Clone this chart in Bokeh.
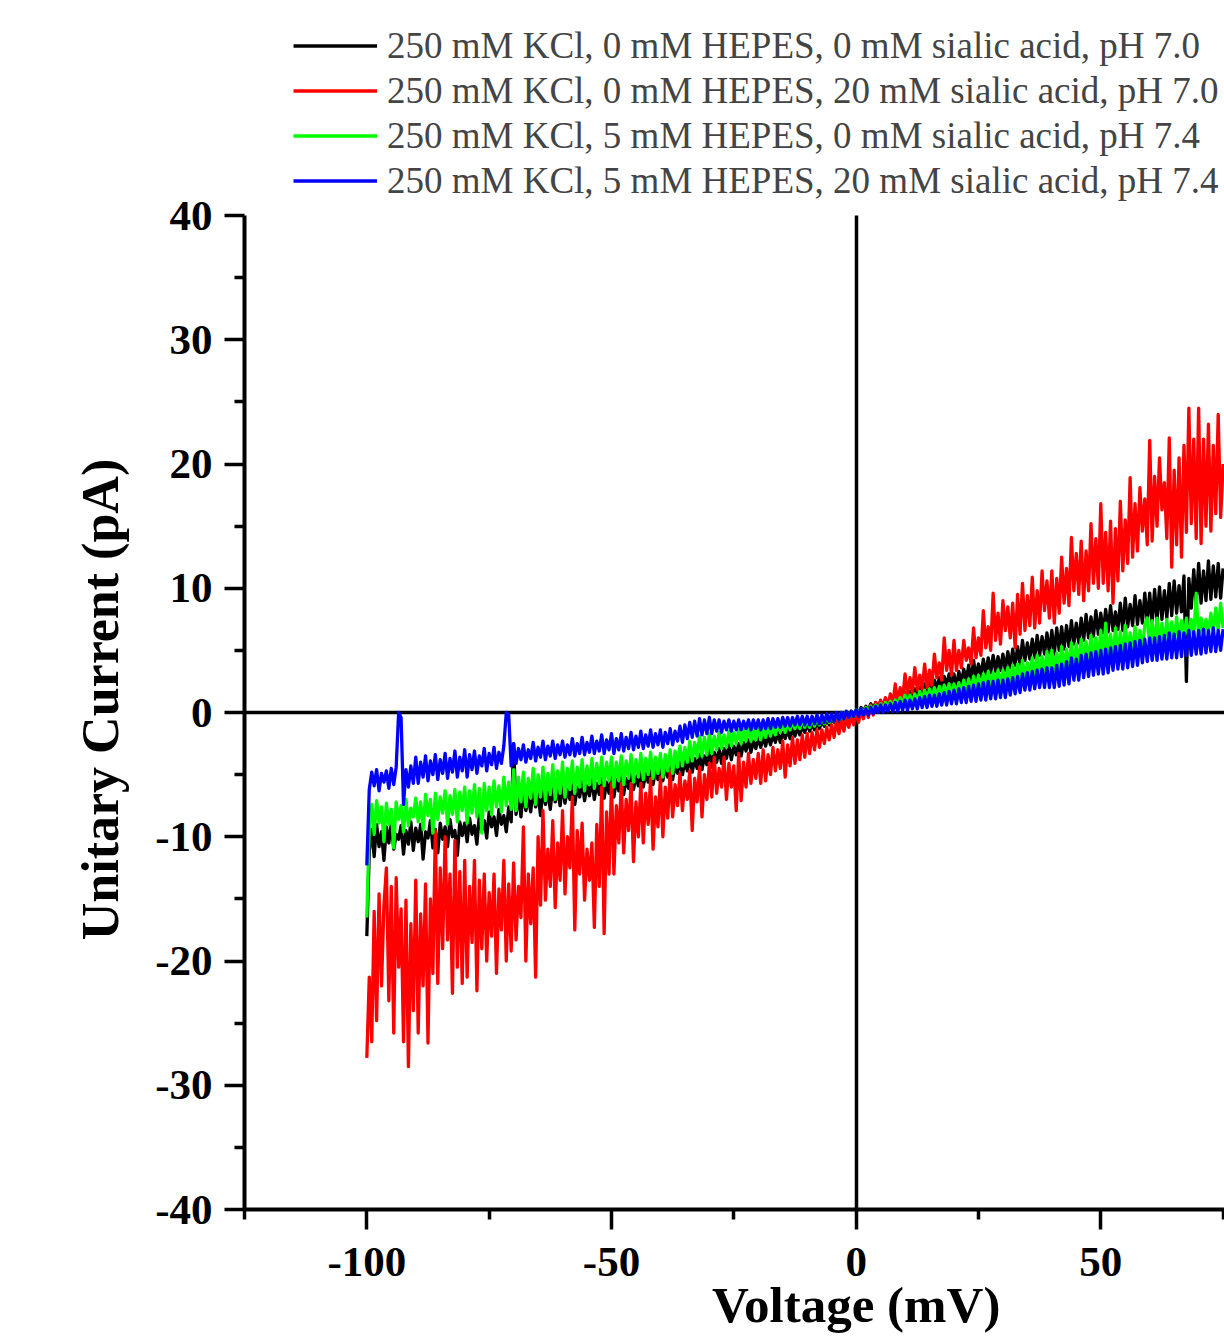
import math
from bokeh.plotting import figure
from bokeh.models import Range1d, FixedTicker, Label, Legend, LegendItem, LinearAxis
from bokeh.embed import file_html
from bokeh.resources import INLINE

# ---------------- data ----------------
v_start, v_step, n_points = -100.0, 0.5, 351
voltage = [round(v_start + v_step * i, 1) for i in range(n_points)]

series_labels = [
    "250 mM KCl, 0 mM HEPES, 0 mM sialic acid, pH 7.0",
    "250 mM KCl, 0 mM HEPES, 20 mM sialic acid, pH 7.0",
    "250 mM KCl, 5 mM HEPES, 0 mM sialic acid, pH 7.4",
    "250 mM KCl, 5 mM HEPES, 20 mM sialic acid, pH 7.4",
]
series_colors = ["#000000", "#ff0000", "#00ff00", "#0000ff"]

current_black = [
    -18.0, -11.2, -9.4, -11.6, -9.0, -10.8, -9.6, -11.9, -9.2, -10.5, -8.9, -11.0, -9.8, -10.2, -9.1, -11.4, -9.5, -10.6, -8.8, -11.1,
    -9.3, -10.4, -9.0, -11.8, -9.6, -10.1, -8.7, -10.9, -9.4, -11.3, -8.9, -10.2, -9.2, -10.8, -8.6, -10.0, -9.5, -11.5, -8.8, -9.9,
    -8.9, -10.4, -8.5, -9.8, -9.1, -10.6, -8.2, -9.5, -8.7, -10.1, -8.0, -9.2, -8.4, -9.9, -7.8, -9.0, -8.3, -9.6, -7.6, -8.8,
    -2.5, -8.2, -6.6, -8.4, -6.3, -7.9, -6.8, -8.0, -6.1, -7.6, -6.5, -8.3, -6.0, -7.4, -6.4, -7.8, -5.9, -7.2, -6.2, -7.5,
    -5.8, -7.3, -6.2, -7.0, -5.6, -7.4, -6.0, -6.8, -5.5, -7.1, -5.9, -6.7, -5.4, -7.0, -5.7, -6.6, -5.3, -6.9, -5.6, -6.5,
    -5.2, -6.8, -5.4, -6.3, -5.0, -6.6, -5.3, -6.1, -4.8, -6.2, -5.1, -5.9, -4.7, -6.0, -4.9, -5.6, -4.5, -5.8, -4.6, -5.4,
    -4.1, -5.5, -4.3, -5.2, -4.0, -5.4, -4.2, -4.9, -3.8, -5.0, -3.9, -4.7, -3.6, -4.8, -3.7, -4.5, -3.4, -4.6, -3.5, -4.2,
    -3.0, -4.4, -3.2, -4.0, -2.9, -4.1, -2.9, -3.7, -2.6, -3.8, -2.7, -3.4, -2.5, -3.5, -2.4, -3.1, -2.2, -3.2, -2.3, -2.9,
    -2.0, -2.8, -2.0, -2.7, -1.8, -2.6, -1.8, -2.4, -1.6, -2.4, -1.6, -2.1, -1.4, -2.1, -1.3, -1.9, -1.2, -1.8, -1.1, -1.6,
    -0.9, -1.5, -0.9, -1.4, -0.7, -1.3, -0.7, -1.1, -0.5, -1.0, -0.5, -0.8, -0.3, -0.8, -0.2, -0.6, 0.0, -0.4, 0.1, -0.3,
    0.2, -0.1, 0.4, 0.1, 0.5, 0.2, 0.7, 0.3, 0.8, 0.4, 0.9, 0.5, 1.1, 0.6, 1.2, 0.8, 1.3, 0.9, 1.5, 1.0,
    1.6, 1.0, 1.7, 1.2, 1.9, 1.3, 2.0, 1.5, 2.3, 1.6, 2.4, 1.8, 2.6, 1.9, 2.8, 2.0, 2.9, 2.2, 3.1, 2.1,
    3.1, 2.0, 3.3, 2.4, 3.5, 2.5, 3.8, 2.6, 4.2, 2.8, 3.9, 2.9, 4.3, 3.1, 4.4, 3.2, 4.6, 3.3, 4.5, 3.4,
    4.7, 3.4, 4.9, 3.6, 5.1, 3.8, 5.3, 3.9, 5.8, 4.2, 5.6, 4.3, 5.9, 4.4, 6.2, 4.6, 6.1, 4.7, 6.4, 4.8,
    6.6, 4.7, 6.8, 5.0, 6.9, 5.1, 7.0, 5.3, 7.4, 5.5, 7.2, 5.6, 7.6, 5.8, 7.9, 6.0, 7.7, 6.1, 8.2, 6.3,
    8.0, 6.4, 8.3, 6.5, 8.6, 6.6, 8.1, 6.7, 8.8, 6.6, 9.2, 6.9, 8.7, 7.0, 9.4, 7.1, 9.0, 7.2, 9.6, 7.3,
    9.6, 7.2, 9.9, 7.4, 10.1, 7.5, 9.8, 7.6, 10.4, 7.8, 10.6, 8.0, 10.2, 8.1, 11.0, 2.5, 10.8, 8.4, 11.5, 8.6,
    12.0, 8.8, 11.4, 9.0, 12.2, 9.1, 11.8, 9.3, 12.0, 9.2, 11.6,
]

current_red = [
    -27.8, -21.3, -26.5, -16.0, -24.8, -14.6, -22.0, -15.5, -12.5, -23.2, -14.0, -25.8, -13.3, -20.5, -15.8, -26.5, -15.1, -28.5, -17.0, -24.0,
    -13.5, -25.8, -16.2, -22.0, -13.8, -26.6, -15.0, -21.0, -9.5, -21.8, -12.5, -19.0, -10.0, -18.3, -13.0, -22.6, -10.3, -20.5, -12.8, -21.8,
    -11.9, -21.3, -14.0, -18.5, -11.9, -22.4, -13.5, -19.0, -13.0, -20.0, -14.5, -18.0, -13.0, -21.0, -14.2, -17.5, -11.9, -20.0, -13.8, -19.2,
    -12.1, -18.3, -14.0, -16.5, -9.2, -20.0, -13.0, -17.0, -12.5, -21.3, -10.0, -15.5, -7.9, -15.1, -11.0, -14.0, -8.7, -15.7, -10.5, -13.5,
    -7.9, -14.6, -10.0, -12.5, -6.8, -17.5, -9.5, -13.0, -8.9, -15.1, -11.0, -13.5, -10.5, -17.3, -9.0, -14.0, -6.0, -17.8, -8.0, -13.0,
    -5.7, -13.0, -7.5, -10.5, -5.7, -11.3, -7.0, -9.5, -5.7, -12.0, -7.2, -10.0, -5.7, -10.5, -6.5, -9.0, -5.3, -11.0, -6.8, -9.2,
    -5.2, -10.0, -6.0, -8.5, -4.7, -8.4, -5.8, -7.5, -4.9, -7.9, -5.5, -7.0, -4.7, -9.5, -5.3, -7.2, -4.4, -8.4, -5.0, -7.0,
    -4.1, -6.8, -3.6, -6.5, -4.5, -6.0, -3.6, -7.0, -4.1, -6.0, -4.3, -7.9, -3.3, -7.1, -4.0, -6.0, -3.3, -5.7, -3.8, -5.3,
    -3.3, -5.7, -3.0, -5.5, -3.4, -5.0, -2.8, -4.7, -3.0, -4.5, -2.3, -5.2, -2.6, -4.3, -2.0, -4.1, -2.2, -3.8, -1.8, -3.6,
    -1.7, -3.3, -1.6, -3.0, -1.4, -2.8, -1.4, -2.5, -1.2, -2.2, -1.0, -2.0, -0.6, -1.7, -0.6, -1.5, -0.4, -1.2, -0.2, -1.0,
    0.0, -0.8, 0.2, -0.5, 0.4, -0.4, 0.6, -0.2, 0.8, 0.1, 1.0, 0.3, 1.2, 0.4, 1.5, 0.6, 2.3, 0.8, 2.0, 1.0,
    3.1, 1.5, 2.8, 1.6, 3.6, 1.8, 3.0, 1.9, 3.9, 2.0, 3.4, 2.2, 4.7, 2.8, 4.0, 2.6, 6.0, 3.4, 5.0, 3.0,
    5.8, 3.4, 5.0, 3.6, 5.8, 4.2, 5.2, 3.9, 6.8, 4.4, 6.0, 4.6, 8.2, 5.2, 6.9, 5.0, 9.6, 5.8, 8.0, 5.5,
    9.0, 6.6, 8.5, 6.0, 8.8, 5.2, 9.5, 6.3, 10.4, 6.6, 9.4, 7.0, 10.9, 6.8, 9.8, 7.2, 11.4, 8.2, 10.6, 7.6,
    11.4, 7.2, 10.8, 8.0, 12.5, 8.8, 11.6, 8.6, 14.1, 9.8, 12.8, 9.5, 13.8, 9.0, 13.0, 9.8, 15.2, 10.4, 14.0, 10.0,
    16.8, 10.4, 14.5, 9.8, 15.4, 8.8, 14.8, 10.6, 17.0, 11.4, 15.5, 12.0, 18.9, 12.5, 16.8, 13.0, 18.1, 14.6, 17.2, 13.5,
    21.9, 13.8, 19.0, 15.0, 20.5, 16.3, 18.5, 14.0, 22.1, 11.7, 19.5, 13.5, 20.5, 12.5, 21.5, 14.5, 24.5, 15.2, 22.0, 14.0,
    24.5, 13.6, 22.0, 15.0, 23.2, 14.6, 21.5, 16.0, 24.0, 15.7, 20.0,
]

current_green = [
    -16.5, -9.2, -7.4, -9.8, -7.1, -8.9, -7.6, -10.4, -7.3, -9.0, -7.8, -10.9, -7.2, -8.6, -7.5, -9.6, -7.0, -9.1, -7.7, -8.4,
    -6.9, -8.8, -7.2, -9.4, -6.6, -8.3, -7.0, -9.7, -6.5, -8.6, -6.8, -8.1, -6.3, -9.0, -6.7, -8.2, -6.2, -8.8, -6.4, -7.9,
    -6.0, -8.9, -6.3, -8.1, -5.8, -8.4, -6.1, -9.7, -5.7, -7.9, -6.0, -8.2, -5.5, -7.6, -5.9, -8.0, -5.2, -7.5, -5.6, -7.8,
    -4.6, -7.9, -5.2, -7.2, -4.8, -7.6, -5.3, -6.9, -4.5, -7.4, -5.0, -6.8, -4.4, -7.1, -4.9, -6.6, -4.2, -7.0, -4.7, -6.5,
    -4.0, -6.8, -4.5, -6.2, -3.9, -6.5, -4.4, -6.0, -3.8, -6.3, -4.3, -5.8, -3.7, -6.1, -4.1, -5.7, -3.6, -5.9, -4.0, -5.5,
    -3.6, -6.0, -4.0, -5.5, -3.5, -5.8, -3.9, -5.3, -3.4, -5.6, -3.8, -5.2, -3.3, -5.4, -3.7, -5.0, -3.2, -5.3, -3.6, -4.9,
    -3.3, -5.2, -3.4, -4.7, -3.0, -4.9, -3.1, -4.4, -2.7, -4.3, -2.8, -4.0, -2.3, -3.9, -2.4, -3.6, -1.9, -3.5, -2.0, -3.4,
    -1.7, -3.3, -1.9, -3.0, -1.6, -2.9, -1.8, -2.8, -1.5, -2.7, -1.6, -2.5, -1.4, -2.5, -1.4, -2.3, -1.2, -2.3, -1.3, -2.2,
    -1.2, -2.2, -1.1, -2.0, -1.0, -1.9, -1.0, -1.8, -0.9, -1.6, -0.8, -1.6, -0.7, -1.4, -0.7, -1.3, -0.6, -1.3, -0.5, -1.2,
    -0.5, -1.2, -0.4, -1.1, -0.4, -1.0, -0.3, -0.9, -0.2, -0.8, -0.2, -0.7, -0.1, -0.6, 0.0, -0.5, 0.1, -0.4, 0.1, -0.3,
    0.2, -0.2, 0.3, 0.0, 0.4, 0.1, 0.5, 0.2, 0.6, 0.2, 0.7, 0.3, 0.8, 0.4, 0.9, 0.5, 1.0, 0.5, 1.2, 0.6,
    1.4, 0.7, 1.4, 0.8, 1.5, 0.9, 1.7, 1.0, 1.8, 1.1, 1.9, 1.2, 2.0, 1.3, 2.1, 1.3, 2.2, 1.4, 2.3, 1.5,
    2.3, 1.5, 2.4, 1.6, 2.6, 1.7, 2.7, 1.8, 2.9, 1.9, 3.0, 2.0, 3.1, 2.1, 3.3, 2.2, 3.2, 2.2, 3.4, 2.3,
    3.4, 2.3, 3.6, 2.5, 3.8, 2.6, 3.9, 2.7, 4.2, 2.8, 4.0, 2.9, 4.4, 3.0, 4.6, 3.1, 4.5, 3.2, 4.9, 3.3,
    5.0, 3.4, 4.8, 3.5, 5.3, 3.5, 5.1, 3.6, 5.6, 3.6, 5.5, 3.8, 5.9, 3.9, 5.7, 4.0, 6.2, 4.1, 6.0, 4.3,
    6.6, 4.4, 7.2, 4.5, 6.3, 4.4, 6.8, 4.6, 6.5, 4.5, 7.0, 4.7, 6.4, 4.8, 6.9, 4.9, 6.6, 5.0, 7.1, 7.6,
    5.2, 7.4, 5.3, 7.6, 5.4, 7.2, 5.5, 7.5, 5.5, 7.3, 5.6, 7.7, 5.6, 7.4, 5.8, 7.6, 5.9, 7.5, 6.0, 9.6,
    6.0, 7.6, 6.2, 7.5, 6.4, 8.0, 6.5, 8.4, 6.6, 8.8, 6.8,
]

current_blue = [
    -12.3, -6.2, -4.8, -5.9, -4.6, -6.3, -4.9, -5.6, -4.7, -6.1, -4.5, -5.8, -4.4, 0.0, -0.4, -7.4, -4.6, -6.0, -4.3, -5.7,
    -3.6, -5.7, -4.0, -5.2, -3.5, -5.5, -3.9, -5.0, -3.4, -5.4, -3.8, -4.9, -3.3, -5.3, -3.7, -4.8, -3.1, -5.2, -3.6, -4.7,
    -3.0, -5.2, -3.4, -4.6, -3.1, -4.9, -3.5, -4.3, -2.9, -4.7, -3.3, -4.2, -2.8, -4.5, -3.2, -4.1, -2.7, 0.0, -0.2, -4.3,
    -2.5, -4.1, -2.9, -3.8, -2.6, -4.0, -3.0, -3.7, -2.4, -3.9, -2.8, -3.6, -2.3, -3.8, -2.7, -3.5, -2.3, -3.7, -2.6, -3.4,
    -2.3, -3.6, -2.6, -3.4, -2.1, -3.5, -2.5, -3.3, -2.0, -3.4, -2.4, -3.2, -1.9, -3.3, -2.3, -3.1, -1.8, -3.3, -2.2, -3.0,
    -1.7, -3.3, -2.1, -3.0, -1.7, -3.1, -2.0, -2.9, -1.6, -3.0, -1.9, -2.8, -1.5, -2.9, -1.8, -2.7, -1.4, -2.8, -1.7, -2.6,
    -1.4, -2.8, -1.6, -2.5, -1.3, -2.6, -1.5, -2.3, -1.1, -2.4, -1.0, -2.1, -0.8, -2.0, -0.7, -1.9, -0.5, -1.8, -0.6, -1.7,
    -0.4, -1.7, -0.6, -1.5, -0.6, -1.6, -0.7, -1.4, -0.6, -1.5, -0.7, -1.4, -0.6, -1.4, -0.7, -1.3, -0.6, -1.4, -0.6, -1.3,
    -0.6, -1.4, -0.6, -1.3, -0.5, -1.3, -0.5, -1.2, -0.5, -1.2, -0.4, -1.1, -0.4, -1.1, -0.4, -1.0, -0.3, -1.0, -0.3, -1.0,
    -0.3, -1.0, -0.3, -0.9, -0.2, -0.9, -0.2, -0.8, -0.1, -0.7, -0.1, -0.7, 0.0, -0.6, 0.0, -0.5, 0.1, -0.4, 0.1, -0.3,
    0.2, -0.3, 0.3, -0.2, 0.3, -0.2, 0.4, -0.1, 0.5, 0.0, 0.6, 0.0, 0.6, 0.1, 0.7, 0.1, 0.8, 0.1, 0.9, 0.2,
    1.0, 0.2, 1.0, 0.3, 1.1, 0.3, 1.2, 0.4, 1.3, 0.4, 1.4, 0.5, 1.4, 0.5, 1.5, 0.6, 1.6, 0.6, 1.7, 0.7,
    1.8, 0.7, 1.9, 0.8, 2.0, 0.8, 2.1, 0.9, 2.2, 0.9, 2.3, 1.0, 2.4, 1.0, 2.5, 1.1, 2.5, 1.1, 2.6, 1.2,
    2.6, 1.2, 2.7, 1.4, 2.8, 1.5, 2.9, 1.6, 3.1, 1.8, 3.2, 1.8, 3.3, 1.9, 3.4, 2.0, 3.5, 2.0, 3.6, 2.0,
    3.6, 2.0, 3.8, 2.1, 3.9, 2.2, 4.1, 2.3, 4.4, 2.6, 4.3, 2.6, 4.6, 2.8, 4.7, 2.9, 4.8, 3.0, 4.9, 3.1,
    5.0, 3.1, 5.1, 3.2, 5.2, 3.4, 5.3, 3.5, 5.4, 3.5, 5.5, 3.6, 5.6, 3.7, 5.7, 3.8, 5.8, 4.0, 5.9, 4.1,
    6.0, 4.2, 6.0, 4.2, 6.1, 4.3, 6.2, 4.3, 6.4, 4.4, 6.3, 4.4, 6.5, 4.5, 6.4, 4.6, 6.6, 4.6, 6.5, 4.7,
    6.6, 4.7, 6.7, 4.8, 6.6, 4.9, 6.8, 4.9, 6.6, 5.0, 6.7,
]

x_major_ticks = [-100, -50, 0, 50, 100]
x_minor_ticks = [-125, -75, -25, 25, 75, 125]
y_major_ticks = [-40, -30, -20, -10, 0, 10, 20, 30, 40]
y_minor_ticks = [-35, -25, -15, -5, 5, 15, 25, 35]
x_tick_labels = {t: str(t) for t in x_major_ticks}
y_tick_labels = {t: str(t) for t in y_major_ticks}
x_title = "Voltage (mV)"
y_title = "Unitary Current (pA)"
x_axis_start, y_axis_start, y_axis_end = -125, -40, 40

all_series = [current_black, current_red, current_green, current_blue]
for s in all_series:
    assert len(s) == n_points, len(s)

# ---------------- layout (pixel anchors of the axes box) ----------------
W, H = 1224, 1340
px_left, px_top, px_bottom = 244, 215, 1209      # where x=-125, y=40, y=-40 lie
px_per_mv = 4.893
px_per_pa = (px_bottom - px_top) / (y_axis_end - y_axis_start)
x_lo = x_axis_start - px_left / px_per_mv
x_hi = x_axis_start + (W - px_left) / px_per_mv
y_hi = y_axis_end + px_top / px_per_pa
y_lo = y_axis_start - (H - px_bottom) / px_per_pa

p = figure(
    width=W, height=H,
    x_range=Range1d(x_lo, x_hi), y_range=Range1d(y_lo, y_hi),
    output_backend="svg", toolbar_location=None, min_border=0,
)
p.outline_line_color = None
p.xgrid.visible = False
p.ygrid.visible = False
p.background_fill_color = "white"
p.border_fill_color = "white"
p.title.visible = False

# zero lines (axes through the origin, under the traces)
zero_x = LinearAxis(fixed_location=0, bounds=(x_axis_start, x_hi), ticker=FixedTicker(ticks=[]),
                    axis_line_width=3.5, axis_line_color="black", major_label_text_font_size="0px")
zero_y = LinearAxis(fixed_location=0, bounds=(y_axis_start, y_axis_end), ticker=FixedTicker(ticks=[]),
                    axis_line_width=3.5, axis_line_color="black", major_label_text_font_size="0px")
zero_x.level = "underlay"
zero_y.level = "underlay"
p.add_layout(zero_x, "below")
p.add_layout(zero_y, "left")

renderers = []
for s, c in zip(all_series, series_colors):
    r = p.line(voltage, s, line_color=c, line_width=3.3, line_join="round")
    renderers.append(r)

xax = p.xaxis[0]
yax = p.yaxis[0]
xax.fixed_location = y_axis_start
xax.bounds = (x_axis_start, x_hi)
yax.fixed_location = x_axis_start
yax.bounds = (y_axis_start, y_axis_end)
for ax, maj, mnr, lab in ((xax, x_major_ticks, x_minor_ticks, x_tick_labels),
                          (yax, y_major_ticks, y_minor_ticks, y_tick_labels)):
    ax.ticker = FixedTicker(ticks=maj, minor_ticks=mnr)
    ax.major_label_overrides = lab
    ax.axis_line_width = 4
    ax.axis_line_color = "black"
    ax.major_tick_line_width = 3.5
    ax.minor_tick_line_width = 3.5
    ax.major_tick_in = 0
    ax.major_tick_out = 20
    ax.minor_tick_in = 0
    ax.minor_tick_out = 10
    ax.major_label_text_font = "Liberation Serif"
    ax.major_label_text_font_style = "bold"
    ax.major_label_text_font_size = "43px"
    ax.major_label_text_color = "black"
xax.major_label_standoff = 18
yax.major_label_standoff = 12

x_title_y = y_hi - 1304 / px_per_pa
y_title_x = x_lo + 100 / px_per_mv
y_title_y = y_hi - 699 / px_per_pa
p.add_layout(Label(x=0, y=x_title_y, text=x_title, text_font="Liberation Serif",
                   text_font_style="bold", text_font_size="51px",
                   text_align="center", text_baseline="alphabetic", text_color="black"))
p.add_layout(Label(x=y_title_x, y=y_title_y, text=y_title, angle=math.pi / 2,
                   text_font="Liberation Serif", text_font_style="bold",
                   text_font_size="52px", text_align="center",
                   text_baseline="middle", text_color="black"))

legend = Legend(
    items=[LegendItem(label=l, renderers=[r]) for l, r in zip(series_labels, renderers)],
    location=(293, H - 203),
    glyph_width=84, glyph_height=45, label_height=45, label_standoff=10,
    spacing=0, padding=0, margin=0,
    border_line_alpha=0, background_fill_alpha=0,
    label_text_font="Liberation Serif", label_text_font_size="37px",
)
p.add_layout(legend)

open("out.html", "w").write(file_html(p, INLINE))
